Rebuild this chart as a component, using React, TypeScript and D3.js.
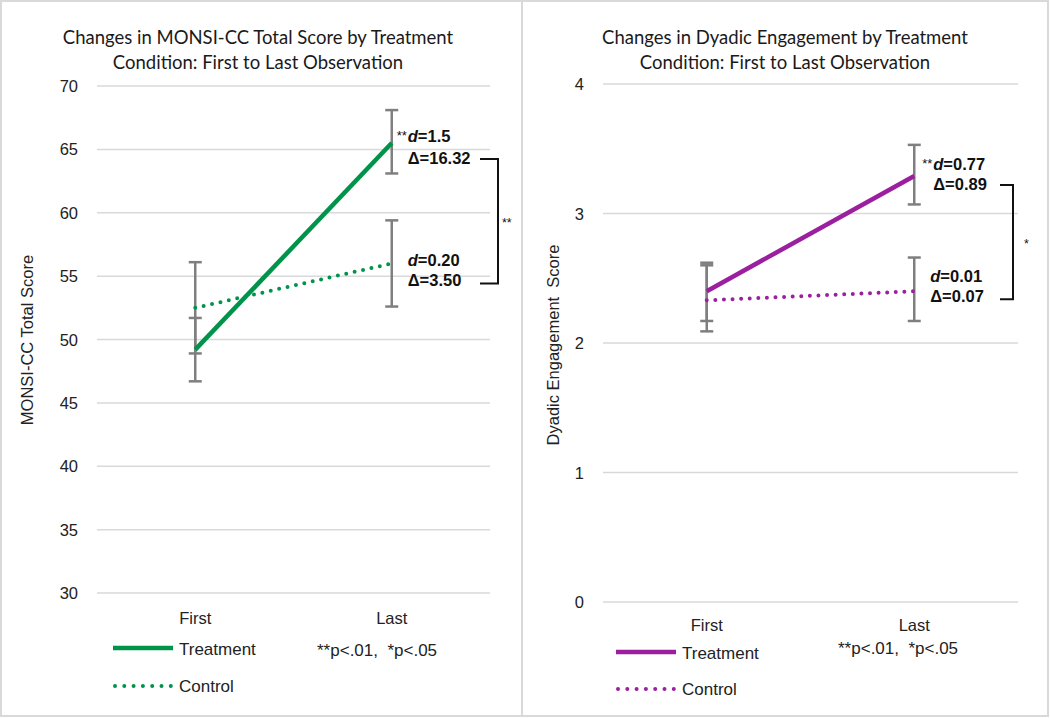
import * as d3 from "d3";
import { useEffect } from "react";

const timepoints = ["First", "Last"];

// MONSI-CC total score
const monsiTreatment = [49.2, 65.5];
const monsiTreatmentLow = [46.7, 63.1];
const monsiTreatmentHigh = [51.7, 68.1];
const monsiControl = [52.5, 56.0];
const monsiControlLow = [48.9, 52.6];
const monsiControlHigh = [56.1, 59.4];
const monsiTicks = [30, 35, 40, 45, 50, 55, 60, 65, 70];
const monsiStats = { treatD: "1.5", treatDelta: "16.32", ctrlD: "0.20", ctrlDelta: "3.50", treatSig: "**", groupSig: "**" };

// Dyadic engagement
const dyadicTreatment = [2.4, 3.29];
const dyadicTreatmentLow = [2.17, 3.07];
const dyadicTreatmentHigh = [2.62, 3.53];
const dyadicControl = [2.33, 2.4];
const dyadicControlLow = [2.09, 2.17];
const dyadicControlHigh = [2.6, 2.66];
const dyadicTicks = [0, 1, 2, 3, 4];
const dyadicStats = { treatD: "0.77", treatDelta: "0.89", ctrlD: "0.01", ctrlDelta: "0.07", treatSig: "**", groupSig: "*" };

const sans = "'Liberation Sans', Arial, sans-serif";
const titleFont = "Lato, 'Open Sans', sans-serif";
const gridColor = "#d9d9d9";
const barColor = "#7f7f7f";

interface PanelProps {
  left: number;
  right: number;
  titleLines: string[];
  titleX: number;
  yLabel: string;
  yLabelX: number;
  yLabelY: number;
  ticks: number[];
  plot: { x0: number; x1: number; top: number; bottom: number };
  treatment: number[];
  treatmentLow: number[];
  treatmentHigh: number[];
  control: number[];
  controlLow: number[];
  controlHigh: number[];
  stats: typeof monsiStats;
  color: string;
  xLabelY: number;
  labelDx: [number, number];
  labelDy: [number, number, number, number];
  bracket: { x0: number; x1: number; starX: number };
  legend: { x: number; y1: number; y2: number; noteX: number; noteY: number };
}

function Panel(p: PanelProps) {
  const x = d3.scalePoint<string>().domain(timepoints).range([p.plot.x0, p.plot.x1]).padding(0.5);
  const y = d3
    .scaleLinear()
    .domain([p.ticks[0], p.ticks[p.ticks.length - 1]])
    .range([p.plot.bottom, p.plot.top]);
  const line = d3
    .line<number>()
    .x((_, i) => x(timepoints[i]) ?? 0)
    .y((v) => y(v));

  const xLast = x(timepoints[1]) ?? 0;
  const tY = y(p.treatment[1]);
  const cY = y(p.control[1]);
  const dLineT = tY + p.labelDy[0];
  const deltaLineT = tY + p.labelDy[1];
  const dLineC = cY + p.labelDy[2];
  const deltaLineC = cY + p.labelDy[3];
  const tx = xLast + p.labelDx[0];
  const cx = xLast + p.labelDx[1];

  const errorBars = [
    { v: p.control, lo: p.controlLow, hi: p.controlHigh },
    { v: p.treatment, lo: p.treatmentLow, hi: p.treatmentHigh },
  ];

  return (
    <g>
      <rect x={p.left} y={1} width={p.right - p.left} height={715} fill="#fff" stroke={gridColor} strokeWidth={2} />
      {p.titleLines.map((t, i) => (
        <text key={t} x={p.titleX} y={44 + i * 25} textAnchor="middle" fontFamily={titleFont} fontSize={18.5} fill="#1a1a1a">
          {t}
        </text>
      ))}

      {p.ticks.map((t) => (
        <g key={t}>
          <line x1={p.plot.x0} x2={p.plot.x1} y1={y(t)} y2={y(t)} stroke={gridColor} strokeWidth={1.5} />
          <text x={p.plot.x0 - 19} y={y(t) + 6} textAnchor="end" fontFamily={sans} fontSize={16.5} fill="#222">
            {t}
          </text>
        </g>
      ))}

      <text
        transform={`translate(${p.yLabelX}, ${p.yLabelY}) rotate(-90)`}
        textAnchor="middle"
        fontFamily={sans}
        fontSize={16.5}
        fill="#222"
        style={{ whiteSpace: "pre" }}
      >
        {p.yLabel}
      </text>

      {timepoints.map((tp) => (
        <text key={tp} x={x(tp)} y={p.xLabelY + 6} textAnchor="middle" fontFamily={sans} fontSize={16.5} fill="#222">
          {tp}
        </text>
      ))}

      {errorBars.map((eb, k) =>
        timepoints.map((tp, i) => {
          const bx = x(tp) ?? 0;
          return (
            <g key={`${k}-${tp}`} stroke={barColor} strokeWidth={2.5}>
              <line x1={bx} x2={bx} y1={y(eb.lo[i])} y2={y(eb.hi[i])} />
              <line x1={bx - 6.5} x2={bx + 6.5} y1={y(eb.lo[i])} y2={y(eb.lo[i])} />
              <line x1={bx - 6.5} x2={bx + 6.5} y1={y(eb.hi[i])} y2={y(eb.hi[i])} />
            </g>
          );
        })
      )}

      <path d={line(p.control) ?? ""} fill="none" stroke={p.color} strokeWidth={4} strokeLinecap="round" strokeDasharray="0 8.6" />
      <path d={line(p.treatment) ?? ""} fill="none" stroke={p.color} strokeWidth={4.5} />

      <g fontFamily={sans} fontSize={16.5} fontWeight={700} fill="#111">
        <text x={tx - 1} y={dLineT + 4} textAnchor="end" fontSize={13} fontWeight={400}>
          {p.stats.treatSig}
        </text>
        <text x={tx} y={dLineT + 6}>
          <tspan fontStyle="italic">d</tspan>={p.stats.treatD}
        </text>
        <text x={tx} y={deltaLineT + 6}>
          Δ={p.stats.treatDelta}
        </text>
        <text x={cx} y={dLineC + 6}>
          <tspan fontStyle="italic">d</tspan>={p.stats.ctrlD}
        </text>
        <text x={cx} y={deltaLineC + 6}>
          Δ={p.stats.ctrlDelta}
        </text>
      </g>

      <path
        d={`M${p.bracket.x0},${deltaLineT + 1}H${p.bracket.x1}V${deltaLineC + 3}H${p.bracket.x0}`}
        fill="none"
        stroke="#111"
        strokeWidth={2}
      />
      <text x={p.bracket.starX} y={(deltaLineT + deltaLineC) / 2 + 8} fontFamily={sans} fontSize={12.5} fill="#111">
        {p.stats.groupSig}
      </text>

      <line x1={p.legend.x} x2={p.legend.x + 60} y1={p.legend.y1} y2={p.legend.y1} stroke={p.color} strokeWidth={4.5} />
      <text x={p.legend.x + 66} y={p.legend.y1 + 7} fontFamily={sans} fontSize={17} fill="#222">
        Treatment
      </text>
      <line
        x1={p.legend.x + 2}
        x2={p.legend.x + 60}
        y1={p.legend.y2}
        y2={p.legend.y2}
        stroke={p.color}
        strokeWidth={4}
        strokeLinecap="round"
        strokeDasharray="0 9.3"
      />
      <text x={p.legend.x + 66} y={p.legend.y2 + 6} fontFamily={sans} fontSize={17} fill="#222">
        Control
      </text>
      <text x={p.legend.noteX} y={p.legend.noteY + 6} fontFamily={sans} fontSize={17} fill="#222" style={{ whiteSpace: "pre" }}>
        **p{"<"}.01,  *p{"<"}.05
      </text>
    </g>
  );
}

export default function App() {
  useEffect(() => {
    document.body.style.margin = "0";
  }, []);

  return (
    <svg width={1050} height={718} style={{ display: "block", background: "#fff" }}>
      <Panel
        left={1}
        right={522}
        titleLines={["Changes in MONSI-CC Total Score by Treatment", "Condition: First to Last Observation"]}
        titleX={258}
        yLabel="MONSI-CC Total Score"
        yLabelX={33}
        yLabelY={340}
        ticks={monsiTicks}
        plot={{ x0: 97, x1: 490, top: 86, bottom: 593 }}
        treatment={monsiTreatment}
        treatmentLow={monsiTreatmentLow}
        treatmentHigh={monsiTreatmentHigh}
        control={monsiControl}
        controlLow={monsiControlLow}
        controlHigh={monsiControlHigh}
        stats={monsiStats}
        color="#00934a"
        xLabelY={618}
        labelDx={[16, 16]}
        labelDy={[-7, 15, -3, 17]}
        bracket={{ x0: 480, x1: 498, starX: 502 }}
        legend={{ x: 113, y1: 648, y2: 686, noteX: 317, noteY: 650 }}
      />
      <Panel
        left={522}
        right={1048}
        titleLines={["Changes in Dyadic Engagement by Treatment", "Condition: First to Last Observation"]}
        titleX={785}
        yLabel="Dyadic Engagement  Score"
        yLabelX={559}
        yLabelY={345}
        ticks={dyadicTicks}
        plot={{ x0: 603, x1: 1018, top: 84, bottom: 602 }}
        treatment={dyadicTreatment}
        treatmentLow={dyadicTreatmentLow}
        treatmentHigh={dyadicTreatmentHigh}
        control={dyadicControl}
        controlLow={dyadicControlLow}
        controlHigh={dyadicControlHigh}
        stats={dyadicStats}
        color="#9b1f9e"
        xLabelY={625}
        labelDx={[19, 16]}
        labelDy={[-12, 8, -15, 5]}
        bracket={{ x0: 1000, x1: 1013, starX: 1024 }}
        legend={{ x: 616, y1: 652, y2: 689, noteX: 838, noteY: 648 }}
      />
    </svg>
  );
}
